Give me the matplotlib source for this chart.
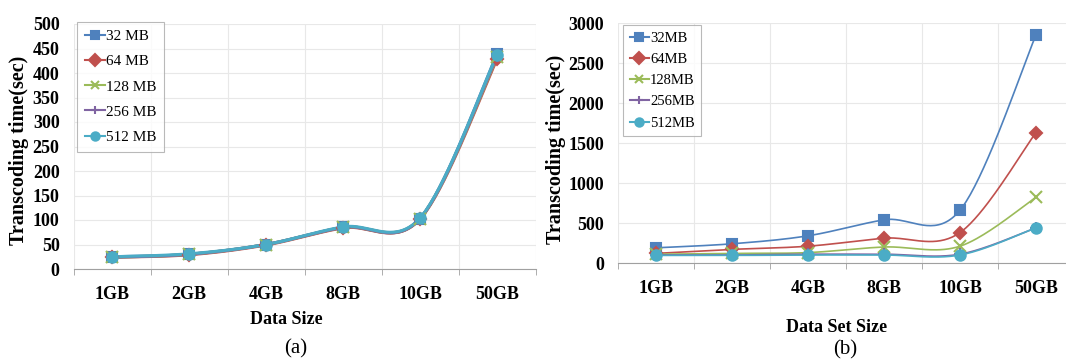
import numpy as np
import matplotlib
matplotlib.use("Agg")
import matplotlib.pyplot as plt
from matplotlib.lines import Line2D

categories = ["1GB", "2GB", "4GB", "8GB", "10GB", "50GB"]

# Panel (a)
a_labels = ["32 MB", "64 MB", "128 MB", "256 MB", "512 MB"]
a_32 = [25, 30, 50, 85, 103, 438]
a_64 = [24, 29, 49, 84, 102, 428]
a_128 = [24, 30, 50, 85, 103, 432]
a_256 = [24, 30, 50, 85, 103, 434]
a_512 = [25, 31, 50, 86, 104, 437]

# Panel (b)
b_labels = ["32MB", "64MB", "128MB", "256MB", "512MB"]
b_32 = [190, 240, 340, 540, 660, 2850]
b_64 = [120, 170, 210, 310, 380, 1630]
b_128 = [110, 120, 130, 200, 210, 820]
b_256 = [100, 100, 110, 110, 110, 440]
b_512 = [95, 95, 100, 100, 100, 440]

colors = ["#4F81BD", "#C0504D", "#9BBB59", "#8064A2", "#4BACC6"]
markers = ["s", "D", "x", "+", "o"]

serif = "Liberation Serif"
W, H = 1066.0, 361.0


def smooth(y, n=40):
    x = np.arange(len(y), dtype=float)
    y = np.asarray(y, dtype=float)
    xs, ys = [], []
    for i in range(len(y) - 1):
        p0 = np.array([x[max(i - 1, 0)], y[max(i - 1, 0)]])
        p1 = np.array([x[i], y[i]])
        p2 = np.array([x[i + 1], y[i + 1]])
        p3 = np.array([x[min(i + 2, len(y) - 1)], y[min(i + 2, len(y) - 1)]])
        c1 = p1 + (p2 - p0) / 6.0
        c2 = p2 - (p3 - p1) / 6.0
        t = np.linspace(0, 1, n)[:, None]
        pts = ((1 - t) ** 3) * p1 + 3 * ((1 - t) ** 2) * t * c1 + 3 * (1 - t) * t ** 2 * c2 + t ** 3 * p2
        xs.extend(pts[:, 0])
        ys.extend(pts[:, 1])
    return np.array(xs), np.array(ys)


fig = plt.figure(figsize=(W / 100, H / 100), dpi=100)

ax1 = fig.add_axes([73.5 / W, 1 - 269 / H, 462 / W, 245 / H])
ax2 = fig.add_axes([618 / W, 1 - 263 / H, 456 / W, 240 / H])


def style(ax, ymax, ystep, pad):
    ax.set_xlim(-0.5, len(categories) - 0.5)
    ax.set_ylim(0, ymax)
    ax.set_yticks(np.arange(0, ymax + 1, ystep))
    ax.set_xticks(range(len(categories)))
    ax.set_xticklabels(categories)
    ax.set_xticks(np.arange(-0.5, len(categories), 1.0), minor=True)
    ax.tick_params(axis="x", which="major", length=0, pad=pad)
    ax.tick_params(axis="x", which="minor", length=4, color="#A0A0A0", direction="out")
    ax.tick_params(axis="y", length=0, pad=10)
    for lab in ax.get_xticklabels() + ax.get_yticklabels():
        lab.set_fontfamily(serif)
        lab.set_fontweight("bold")
        lab.set_fontsize(13)
    ax.grid(True, which="minor", axis="x", color="#E8E8E8", lw=0.8)
    ax.grid(True, which="major", axis="y", color="#E8E8E8", lw=0.8)
    ax.set_axisbelow(True)
    for s in ["top", "right", "left"]:
        ax.spines[s].set_visible(False)
    ax.spines["bottom"].set_color("#A0A0A0")


style(ax1, 500, 50, 12)
style(ax2, 3000, 500, 12)

a_series = [a_32, a_64, a_128, a_256, a_512]
b_series = [b_32, b_64, b_128, b_256, b_512]
msz = [7.5, 6.5, 8, 9, 7.5]

x_cat = np.arange(len(categories))
for i, y in enumerate(a_series):
    sx, sy = smooth(y)
    ax1.plot(sx, sy, color=colors[i], lw=2.2, zorder=3)
    ax1.plot(x_cat, y, ls="none", marker=markers[i], color=colors[i], ms=msz[i], mew=1.5, zorder=4)

for i, y in enumerate(b_series):
    sx, sy = smooth(y)
    ax2.plot(sx, sy, color=colors[i], lw=1.2, zorder=3)
    ax2.plot(x_cat, y, ls="none", marker=markers[i], color=colors[i], ms=msz[i], mew=1.5, zorder=4)

# axis titles
fig.text(19 / W, 1 - 150 / H, "Transcoding time(sec)", family=serif, fontweight="bold",
         fontsize=14.5, rotation=90, ha="center", va="center")
fig.text(556 / W, 1 - 149 / H, "Transcoding time(sec)", family=serif, fontweight="bold",
         fontsize=14.5, rotation=90, ha="center", va="center")
fig.text(286 / W, 1 - 320 / H, "Data Size", family=serif, fontweight="bold",
         fontsize=13, ha="center", va="center")
fig.text(837 / W, 1 - 327 / H, "Data Set Size", family=serif, fontweight="bold",
         fontsize=13, ha="center", va="center")


def handles():
    return [Line2D([0], [0], color=colors[i], lw=1.5, marker=markers[i], ms=6, mew=1.5)
            for i in range(5)]


leg1 = fig.legend(handles(), a_labels, loc="upper left", bbox_to_anchor=(77 / W, 1 - 22 / H),
                  prop={"family": serif, "size": 11}, frameon=True, fancybox=False,
                  edgecolor="#A8A8A8", handlelength=1.3, handletextpad=0.1,
                  borderpad=0.5, labelspacing=0.75, borderaxespad=0.0)
leg1.get_frame().set_linewidth(0.8)
leg2 = fig.legend(handles(), b_labels, loc="upper left", bbox_to_anchor=(623 / W, 1 - 25 / H),
                  prop={"family": serif, "size": 10.5}, frameon=True, fancybox=False,
                  edgecolor="#A8A8A8", handlelength=1.3, handletextpad=0.1,
                  borderpad=0.45, labelspacing=0.55, borderaxespad=0.0)
leg2.get_frame().set_linewidth(0.8)

fig.text(296 / W, 1 - 349 / H, "(a)", family=serif, fontsize=15, ha="center", va="center")
fig.text(845 / W, 1 - 350 / H, "(b)", family=serif, fontsize=15, ha="center", va="center")

fig.savefig("out.png", dpi=100)
